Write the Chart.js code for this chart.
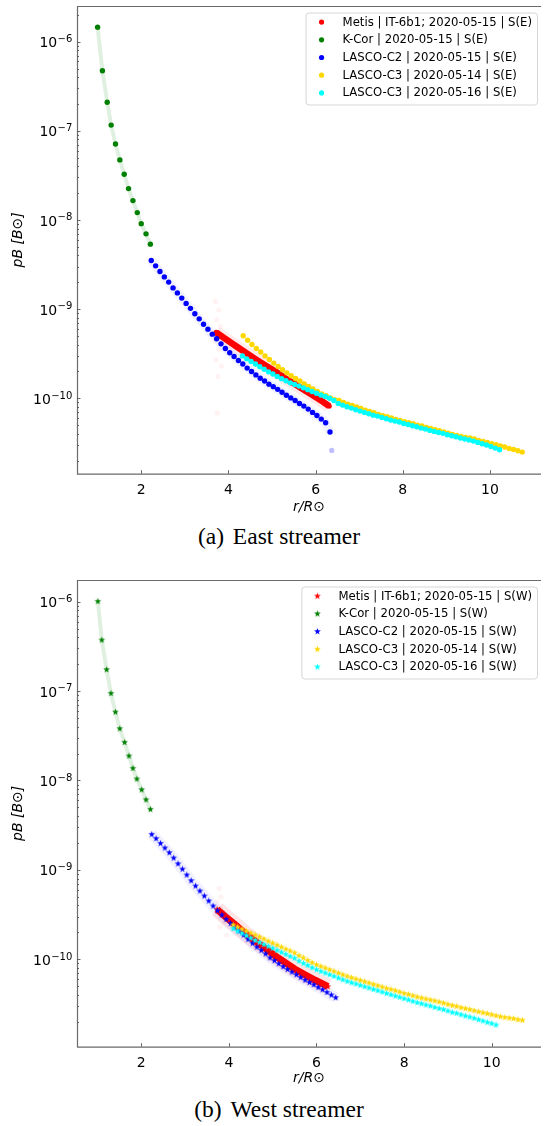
<!DOCTYPE html>
<html>
<head>
<meta charset="utf-8">
<title>pB profiles</title>
<script src="https://cdn.jsdelivr.net/npm/chart.js@4/dist/chart.umd.min.js"></script>
<style>
  body { margin: 0; background: #fff; width: 545px; height: 1126px; position: relative; overflow: hidden; }
  canvas { position: absolute; left: 0; }
  #east { top: 0; }
  #west { top: 570px; }
  .cap { position: absolute; left: 0; width: 558px; text-align: center; font-family: "Liberation Serif", serif;
         font-size: 23.5px; line-height: 28px; color: #000; white-space: nowrap; }
  .cap span { margin-left: 3px; }
</style>
</head>
<body>
<canvas id="east" width="545" height="520"></canvas>
<div class="cap" style="top:522px">(a) <span>East streamer</span></div>
<canvas id="west" width="545" height="520"></canvas>
<div class="cap" style="top:1095px">(b) <span>West streamer</span></div>

<script>
/* ============================
   pB radial profiles, East / West streamer
============================ */

// ---------- axes ----------
const xTicks = [2, 4, 6, 8, 10];
const yMajorTicks = [1e-10, 1e-9, 1e-8, 1e-7, 1e-6];
const yTickBase = '10';
const yTickExponents = ['−10', '−9', '−8', '−7', '−6'];
const minorDecades = [1e-11, 1e-10, 1e-9, 1e-8, 1e-7, 1e-6];
const minorSteps = [2, 3, 4, 5, 6, 7, 8, 9];

const eastLabels = [
  'Metis | IT-6b1; 2020-05-15 | S(E)',
  'K-Cor | 2020-05-15 | S(E)',
  'LASCO-C2 | 2020-05-15 | S(E)',
  'LASCO-C3 | 2020-05-14 | S(E)',
  'LASCO-C3 | 2020-05-16 | S(E)'
];
const westLabels = [
  'Metis | IT-6b1; 2020-05-15 | S(W)',
  'K-Cor | 2020-05-15 | S(W)',
  'LASCO-C2 | 2020-05-15 | S(W)',
  'LASCO-C3 | 2020-05-14 | S(W)',
  'LASCO-C3 | 2020-05-16 | S(W)'
];

// ---------- East streamer ----------
const metisER  = [3.72, 3.94, 4.16, 4.39, 4.62, 4.85, 5.08, 5.30, 5.53, 5.76, 5.99, 6.18, 6.31];
const metisEPB = [5.47e-10, 4.61e-10, 3.88e-10, 3.26e-10, 2.75e-10, 2.33e-10, 2.00e-10, 1.68e-10, 1.44e-10, 1.22e-10, 1.04e-10, 9.06e-11, 8.17e-11];

const kcorER  = [1.00, 1.11, 1.22, 1.31, 1.41, 1.51, 1.61, 1.71, 1.81, 1.91, 2.00, 2.11, 2.21];
const kcorEPB = [1.45e-6, 4.73e-7, 2.09e-7, 1.16e-7, 7.13e-8, 4.72e-8, 3.26e-8, 2.25e-8, 1.65e-8, 1.21e-8, 9.1e-9, 6.99e-9, 5.36e-9];

const c2ER = [2.23, 2.33, 2.43, 2.53, 2.63, 2.73, 2.83, 2.93, 3.03, 3.13, 3.23, 3.33, 3.43, 3.53,
  3.63, 3.73, 3.83, 3.93, 4.03, 4.13, 4.23, 4.33, 4.43, 4.53, 4.63, 4.73, 4.83, 4.93, 5.03, 5.13,
  5.23, 5.33, 5.43, 5.53, 5.63, 5.73, 5.83, 5.93, 6.03, 6.13, 6.23, 6.33];
const c2EPB = [3.51e-9, 3.06e-9, 2.64e-9, 2.30e-9, 2.01e-9, 1.73e-9, 1.52e-9, 1.33e-9, 1.16e-9, 1.02e-9,
  8.86e-10, 7.78e-10, 6.78e-10, 5.96e-10, 5.24e-10, 4.65e-10, 4.08e-10, 3.62e-10, 3.24e-10, 2.94e-10,
  2.65e-10, 2.42e-10, 2.18e-10, 2.00e-10, 1.83e-10, 1.68e-10, 1.56e-10, 1.44e-10, 1.35e-10, 1.26e-10,
  1.17e-10, 1.08e-10, 1.01e-10, 9.46e-11, 8.75e-11, 8.17e-11, 7.56e-11, 6.94e-11, 6.42e-11, 5.84e-11,
  5.31e-11, 4.18e-11];

const c3aER = [4.34, 4.44, 4.54, 4.64, 4.74, 4.84, 4.94, 5.04, 5.14, 5.24, 5.34, 5.44, 5.54, 5.64,
  5.74, 5.84, 5.94, 6.04, 6.14, 6.24, 6.34, 6.44, 6.54, 6.64, 6.74, 6.84, 6.94, 7.04, 7.14, 7.24,
  7.34, 7.44, 7.54, 7.64, 7.74, 7.84, 7.94, 8.04, 8.14, 8.24, 8.34, 8.44, 8.54, 8.64, 8.74, 8.84,
  8.94, 9.04, 9.14, 9.24, 9.34, 9.44, 9.54, 9.64, 9.74, 9.84, 9.94, 10.04, 10.14, 10.24, 10.34,
  10.44, 10.54, 10.64, 10.74];
const c3aEPB = [5.02e-10, 4.49e-10, 4.01e-10, 3.62e-10, 3.30e-10, 2.99e-10, 2.72e-10, 2.48e-10, 2.27e-10,
  2.09e-10, 1.93e-10, 1.79e-10, 1.67e-10, 1.56e-10, 1.45e-10, 1.36e-10, 1.27e-10, 1.19e-10, 1.12e-10,
  1.07e-10, 1.01e-10, 9.62e-11, 9.45e-11, 8.98e-11, 8.60e-11, 8.31e-11, 7.97e-11, 7.69e-11, 7.37e-11,
  7.12e-11, 6.88e-11, 6.59e-11, 6.37e-11, 6.21e-11, 6.00e-11, 5.80e-11, 5.65e-11, 5.46e-11, 5.31e-11,
  5.18e-11, 5.00e-11, 4.88e-11, 4.71e-11, 4.59e-11, 4.44e-11, 4.32e-11, 4.18e-11, 4.07e-11, 3.94e-11,
  3.83e-11, 3.73e-11, 3.64e-11, 3.58e-11, 3.49e-11, 3.37e-11, 3.28e-11, 3.20e-11, 3.09e-11, 3.01e-11,
  2.91e-11, 2.84e-11, 2.74e-11, 2.67e-11, 2.58e-11, 2.49e-11];

const c3bER = [4.32, 4.42, 4.52, 4.62, 4.72, 4.82, 4.92, 5.02, 5.12, 5.22, 5.32, 5.42, 5.52, 5.62,
  5.72, 5.82, 5.92, 6.02, 6.12, 6.22, 6.32, 6.42, 6.52, 6.62, 6.72, 6.82, 6.92, 7.02, 7.12, 7.22,
  7.32, 7.42, 7.52, 7.62, 7.72, 7.82, 7.92, 8.02, 8.12, 8.22, 8.32, 8.42, 8.52, 8.62, 8.72, 8.82,
  8.92, 9.02, 9.12, 9.22, 9.32, 9.42, 9.52, 9.62, 9.72, 9.82, 9.92, 10.02, 10.12, 10.22];
const c3bEPB = [2.99e-10, 2.77e-10, 2.59e-10, 2.42e-10, 2.26e-10, 2.12e-10, 1.98e-10, 1.87e-10, 1.76e-10,
  1.66e-10, 1.57e-10, 1.49e-10, 1.43e-10, 1.37e-10, 1.31e-10, 1.25e-10, 1.19e-10, 1.14e-10, 1.09e-10,
  1.05e-10, 1.00e-10, 9.45e-11, 8.75e-11, 8.39e-11, 8.04e-11, 7.76e-11, 7.43e-11, 7.18e-11, 6.94e-11,
  6.70e-11, 6.47e-11, 6.31e-11, 6.10e-11, 5.89e-11, 5.69e-11, 5.55e-11, 5.41e-11, 5.22e-11, 5.09e-11,
  4.92e-11, 4.80e-11, 4.63e-11, 4.51e-11, 4.36e-11, 4.25e-11, 4.14e-11, 4.04e-11, 3.90e-11, 3.80e-11,
  3.70e-11, 3.58e-11, 3.49e-11, 3.40e-11, 3.31e-11, 3.20e-11, 3.09e-11, 2.99e-11, 2.88e-11, 2.76e-11,
  2.65e-11];

// faint scatter behind the Metis east profile + one stray C2 point
const metisECloudR  = [3.70, 3.78, 3.73, 3.82, 3.69, 3.78, 3.72, 3.84, 3.76, 3.74];
const metisECloudPB = [1.22e-9, 9.8e-10, 7.6e-10, 6.4e-10, 4.5e-10, 3.5e-10, 2.7e-10, 2.3e-10, 1.76e-10, 6.8e-11];
const c2EStrayR  = [6.37];
const c2EStrayPB = [2.6e-11];

// ---------- West streamer ----------
const metisWR  = [3.73, 3.92, 4.15, 4.37, 4.60, 4.83, 5.05, 5.28, 5.50, 5.73, 5.96, 6.15, 6.26];
const metisWPB = [3.62e-10, 3.00e-10, 2.42e-10, 1.95e-10, 1.60e-10, 1.33e-10, 1.10e-10, 9.25e-11, 7.79e-11, 6.73e-11, 5.86e-11, 5.29e-11, 4.94e-11];

const kcorWR  = [1.01, 1.10, 1.21, 1.31, 1.41, 1.51, 1.62, 1.72, 1.81, 1.90, 2.01, 2.11, 2.21];
const kcorWPB = [1.01e-6, 3.73e-7, 1.74e-7, 9.44e-8, 5.83e-8, 3.80e-8, 2.67e-8, 1.88e-8, 1.37e-8, 1.04e-8, 7.89e-9, 6.10e-9, 4.76e-9];

const c2WR = [2.24, 2.34, 2.44, 2.54, 2.64, 2.74, 2.84, 2.94, 3.04, 3.14, 3.24, 3.34, 3.44, 3.54,
  3.64, 3.74, 3.84, 3.94, 4.04, 4.14, 4.24, 4.34, 4.44, 4.54, 4.64, 4.74, 4.84, 4.94, 5.04, 5.14,
  5.24, 5.34, 5.44, 5.54, 5.64, 5.74, 5.84, 5.94, 6.04, 6.14, 6.24, 6.34, 6.44];
const c2WPB = [2.50e-9, 2.24e-9, 1.98e-9, 1.76e-9, 1.56e-9, 1.36e-9, 1.17e-9, 1.02e-9, 8.77e-10, 7.58e-10,
  6.61e-10, 5.81e-10, 5.11e-10, 4.49e-10, 3.95e-10, 3.50e-10, 3.13e-10, 2.80e-10, 2.52e-10, 2.28e-10,
  2.07e-10, 1.87e-10, 1.67e-10, 1.51e-10, 1.37e-10, 1.26e-10, 1.15e-10, 1.04e-10, 9.66e-11, 8.93e-11,
  8.27e-11, 7.72e-11, 7.21e-11, 6.73e-11, 6.28e-11, 5.86e-11, 5.52e-11, 5.20e-11, 4.86e-11, 4.57e-11,
  4.27e-11, 3.99e-11, 3.72e-11];

const c3aWR = [4.10, 4.20, 4.30, 4.40, 4.50, 4.60, 4.70, 4.80, 4.90, 5.00, 5.10, 5.20, 5.30, 5.40,
  5.50, 5.60, 5.70, 5.80, 5.90, 6.00, 6.10, 6.20, 6.30, 6.40, 6.50, 6.60, 6.70, 6.80, 6.90, 7.00,
  7.10, 7.20, 7.30, 7.40, 7.50, 7.60, 7.70, 7.80, 7.90, 8.00, 8.10, 8.20, 8.30, 8.40, 8.50, 8.60,
  8.70, 8.80, 8.90, 9.00, 9.10, 9.20, 9.30, 9.40, 9.50, 9.60, 9.70, 9.80, 9.90, 10.00, 10.10, 10.20,
  10.30, 10.40, 10.50, 10.60, 10.70];
const c3aWPB = [2.42e-10, 2.30e-10, 2.18e-10, 2.07e-10, 1.97e-10, 1.87e-10, 1.78e-10, 1.69e-10, 1.60e-10,
  1.52e-10, 1.44e-10, 1.37e-10, 1.30e-10, 1.24e-10, 1.18e-10, 1.10e-10, 1.04e-10, 9.73e-11, 9.17e-11,
  8.70e-11, 8.34e-11, 7.99e-11, 7.66e-11, 7.33e-11, 7.03e-11, 6.73e-11, 6.45e-11, 6.23e-11, 6.02e-11,
  5.82e-11, 5.62e-11, 5.43e-11, 5.25e-11, 5.07e-11, 4.90e-11, 4.73e-11, 4.61e-11, 4.46e-11, 4.31e-11,
  4.16e-11, 4.06e-11, 3.92e-11, 3.79e-11, 3.69e-11, 3.60e-11, 3.51e-11, 3.42e-11, 3.33e-11, 3.24e-11,
  3.13e-11, 3.05e-11, 2.98e-11, 2.88e-11, 2.81e-11, 2.74e-11, 2.66e-11, 2.59e-11, 2.53e-11, 2.47e-11,
  2.40e-11, 2.34e-11, 2.28e-11, 2.24e-11, 2.20e-11, 2.17e-11, 2.11e-11, 2.08e-11];

const c3bWR = [4.10, 4.20, 4.30, 4.40, 4.50, 4.60, 4.70, 4.80, 4.90, 5.00, 5.10, 5.20, 5.30, 5.40,
  5.50, 5.60, 5.70, 5.80, 5.90, 6.00, 6.10, 6.20, 6.30, 6.40, 6.50, 6.60, 6.70, 6.80, 6.90, 7.00,
  7.10, 7.20, 7.30, 7.40, 7.50, 7.60, 7.70, 7.80, 7.90, 8.00, 8.10, 8.20, 8.30, 8.40, 8.50, 8.60,
  8.70, 8.80, 8.90, 9.00, 9.10, 9.20, 9.30, 9.40, 9.50, 9.60, 9.70, 9.80, 9.90, 10.00, 10.10];
const c3bWPB = [2.20e-10, 2.07e-10, 1.95e-10, 1.84e-10, 1.73e-10, 1.63e-10, 1.55e-10, 1.47e-10, 1.40e-10,
  1.33e-10, 1.26e-10, 1.20e-10, 1.14e-10, 1.08e-10, 1.03e-10, 9.57e-11, 9.02e-11, 8.56e-11, 8.06e-11,
  7.65e-11, 7.33e-11, 7.03e-11, 6.73e-11, 6.45e-11, 6.18e-11, 5.92e-11, 5.67e-11, 5.48e-11, 5.30e-11,
  5.12e-11, 4.94e-11, 4.78e-11, 4.61e-11, 4.46e-11, 4.31e-11, 4.16e-11, 4.02e-11, 3.88e-11, 3.76e-11,
  3.63e-11, 3.51e-11, 3.39e-11, 3.27e-11, 3.19e-11, 3.08e-11, 3.01e-11, 2.90e-11, 2.81e-11, 2.74e-11,
  2.64e-11, 2.55e-11, 2.49e-11, 2.40e-11, 2.32e-11, 2.26e-11, 2.19e-11, 2.11e-11, 2.04e-11, 1.97e-11,
  1.91e-11, 1.84e-11];

const metisWCloudR  = [3.78, 3.82, 3.76, 3.86, 3.80, 3.95, 3.74, 3.90];
const metisWCloudPB = [6.2e-10, 5.0e-10, 3.9e-10, 3.0e-10, 2.3e-10, 1.87e-10, 4.4e-10, 2.6e-10];


/* ---------- helpers ---------- */
const COLORS = ['#ff0000', '#008000', '#0000ff', '#ffd700', '#00ffff'];
const FONT = '"DejaVu Sans", sans-serif';

function pts(r, pb) {
  return r.map((x, i) => ({ x: x, y: pb[i] }));
}

function starImage(color) {
  const c = document.createElement('canvas');
  c.width = 9; c.height = 9;
  const g = c.getContext('2d');
  g.fillStyle = color;
  g.beginPath();
  for (let i = 0; i < 10; i++) {
    const rad = i % 2 ? 1.4 : 3.6;
    const a = -Math.PI / 2 + i * Math.PI / 5;
    g.lineTo(4.5 + rad * Math.cos(a), 4.5 + rad * Math.sin(a));
  }
  g.closePath();
  g.fill();
  return c;
}

function minorTicks(min, max) {
  const out = [];
  minorDecades.forEach(d => minorSteps.forEach(m => {
    const v = m * d;
    if (v > min && v < max) out.push(v);
  }));
  return out;
}

/* frame, inward ticks and 10^n labels, matplotlib look */
const framePlugin = {
  id: 'frame',
  afterDatasetsDraw(chart) {
    const { ctx, chartArea: a, scales } = chart;
    ctx.save();
    ctx.strokeStyle = '#6a6a6a';
    ctx.lineWidth = 1.2;
    ctx.beginPath();
    ctx.moveTo(a.right, a.top + 0.5);
    ctx.lineTo(a.left + 0.5, a.top + 0.5);
    ctx.lineTo(a.left + 0.5, a.bottom + 0.5);
    ctx.lineTo(a.right, a.bottom + 0.5);
    ctx.stroke();

    ctx.strokeStyle = '#555';
    ctx.lineWidth = 0.9;
    ctx.beginPath();
    scales.y.ticks.forEach(t => {
      const py = Math.round(scales.y.getPixelForValue(t.value)) + 0.5;
      const len = yMajorTicks.includes(t.value) ? 3.5 : 2;
      ctx.moveTo(a.left, py);
      ctx.lineTo(a.left + len, py);
    });
    scales.x.ticks.forEach(t => {
      const px = Math.round(scales.x.getPixelForValue(t.value)) + 0.5;
      ctx.moveTo(px, a.bottom);
      ctx.lineTo(px, a.bottom - 3.5);
    });
    ctx.stroke();

    // y tick labels: "10" with a raised exponent
    ctx.fillStyle = '#000';
    ctx.textAlign = 'right';
    ctx.textBaseline = 'alphabetic';
    const right = a.left - 4.7;
    yMajorTicks.forEach((v, i) => {
      const py = scales.y.getPixelForValue(v);
      ctx.font = '10px ' + FONT;
      const ew = ctx.measureText(yTickExponents[i]).width;
      ctx.fillText(yTickExponents[i], right, py + 0.3);
      ctx.font = '14px ' + FONT;
      ctx.fillText(yTickBase, right - ew - 0.3, py + 5.6);
    });
    ctx.restore();
  }
};

/* matplotlib style legend box in upper right */
const boxLegend = {
  id: 'boxLegend',
  afterDraw(chart) {
    const { ctx, chartArea: a } = chart;
    const items = chart.data.datasets.filter(d => d.inLegend);
    ctx.save();
    ctx.font = '11.7px ' + FONT;
    const textW = Math.max(...items.map(d => ctx.measureText(d.label).width));
    const w = 37 + textW + 5;
    const h = 92;
    const x = a.right - 4 - w;
    const y = a.top + 6.5;

    ctx.beginPath();
    ctx.roundRect(x + 0.5, y + 0.5, w, h, 3);
    ctx.fillStyle = 'rgba(255,255,255,0.85)';
    ctx.fill();
    ctx.strokeStyle = '#d6d6d6';
    ctx.lineWidth = 1;
    ctx.stroke();

    items.forEach((d, i) => {
      const cy = y + 9.6 + i * 17.7;
      if (d.pointStyle instanceof HTMLCanvasElement) {
        ctx.drawImage(d.pointStyle, x + 16 - 4.5, cy - 4.5);
      } else {
        ctx.beginPath();
        ctx.arc(x + 16, cy, 2.6, 0, Math.PI * 2);
        ctx.fillStyle = d.backgroundColor;
        ctx.fill();
      }
      ctx.fillStyle = '#000';
      ctx.textBaseline = 'middle';
      ctx.textAlign = 'left';
      ctx.fillText(d.label, x + 37, cy + 0.5);
    });
    ctx.restore();
  }
};

function faintLine(data, color, width) {
  return { data, showLine: true, borderColor: color, borderWidth: width, pointRadius: 0, order: 20 };
}
function faintDots(data, color) {
  return { data, backgroundColor: color, pointRadius: 2.6, pointBorderWidth: 0, order: 20 };
}

function mainSet(label, data, i, star, redLine) {
  const ds = {
    label: label,
    data: data,
    inLegend: true,
    backgroundColor: COLORS[i],
    borderColor: COLORS[i],
    pointBackgroundColor: COLORS[i],
    pointBorderWidth: 0,
    pointRadius: star ? 3 : 2.7,
    pointStyle: star ? starImage(COLORS[i]) : 'circle',
    order: 10 - i
  };
  if (redLine) {
    ds.showLine = true;
    ds.borderWidth = redLine;
  }
  return ds;
}

function makePanel(canvasId, cfg) {
  return new Chart(document.getElementById(canvasId), {
    type: 'scatter',
    data: { datasets: cfg.datasets },
    options: {
      responsive: false,
      animation: false,
      events: [],
      layout: { padding: { top: cfg.padTop, left: 0, right: 0, bottom: 0 } },
      plugins: { legend: { display: false }, tooltip: { enabled: false } },
      scales: {
        x: {
          type: 'linear',
          min: cfg.xMin, max: cfg.xMax,
          grid: { display: false },
          border: { display: false },
          afterBuildTicks: s => { s.ticks = xTicks.map(v => ({ value: v })); },
          afterFit: s => {
            s.height = cfg.xAxisH;
            s.paddingLeft = 0; s.paddingRight = 0; s.paddingTop = 0; s.paddingBottom = 0;
          },
          ticks: { color: '#000', font: { family: FONT, size: 14 }, padding: 0, autoSkip: false, maxRotation: 0 },
          title: {
            display: true, text: 'r/R⊙', color: '#000',
            font: { family: FONT, size: 14, style: 'italic' },
            padding: { top: 0, bottom: cfg.titlePadBottom }
          }
        },
        y: {
          type: 'logarithmic',
          min: cfg.yMin, max: cfg.yMax,
          grid: { display: false },
          border: { display: false },
          afterBuildTicks: s => {
            s.ticks = yMajorTicks.concat(minorTicks(cfg.yMin, cfg.yMax)).map(v => ({ value: v }));
          },
          afterFit: s => {
            s.width = 77;
            s.paddingLeft = 0; s.paddingRight = 0; s.paddingTop = 0; s.paddingBottom = 0;
          },
          ticks: { display: false },
          title: {
            display: true, text: 'pB [B⊙]', color: '#000',
            font: { family: FONT, size: 14, style: 'italic' },
            padding: { top: 9.5, bottom: 0 }
          }
        }
      }
    },
    plugins: [framePlugin, boxLegend]
  });
}

/* ---------- East ---------- */
makePanel('east', {
  padTop: 6, xAxisH: 46.3, titlePadBottom: 4.6,
  xMin: 0.527, xMax: 11.17,
  yMin: Math.pow(10, -10.846), yMax: Math.pow(10, -5.5996),
  datasets: [
    faintLine(pts(kcorER, kcorEPB), 'rgba(0,128,0,0.12)', 4),
    faintLine(pts(c2ER, c2EPB), 'rgba(0,0,255,0.05)', 9),
    faintLine(pts(metisER, metisEPB), 'rgba(255,0,0,0.08)', 13),
    faintDots(pts(metisECloudR, metisECloudPB), 'rgba(255,0,0,0.05)'),
    faintDots(pts(c2EStrayR, c2EStrayPB), 'rgba(0,0,255,0.25)'),
    mainSet(eastLabels[0], pts(metisER, metisEPB), 0, false, 6.5),
    mainSet(eastLabels[1], pts(kcorER, kcorEPB), 1, false),
    mainSet(eastLabels[2], pts(c2ER, c2EPB), 2, false),
    mainSet(eastLabels[3], pts(c3aER, c3aEPB), 3, false),
    mainSet(eastLabels[4], pts(c3bER, c3bEPB), 4, false)
  ]
});

/* ---------- West ---------- */
makePanel('west', {
  padTop: 10, xAxisH: 43.3, titlePadBottom: 2.8,
  xMin: 0.534, xMax: 11.125,
  yMin: Math.pow(10, -10.978), yMax: Math.pow(10, -5.757),
  datasets: [
    faintLine(pts(kcorWR, kcorWPB), 'rgba(0,128,0,0.12)', 4),
    faintLine(pts(c2WR, c2WPB), 'rgba(0,0,255,0.05)', 11),
    faintLine(pts(metisWR, metisWPB), 'rgba(255,0,0,0.10)', 16),
    faintDots(pts(metisWCloudR, metisWCloudPB), 'rgba(255,0,0,0.05)'),
    mainSet(westLabels[0], pts(metisWR, metisWPB), 0, true, 7),
    mainSet(westLabels[1], pts(kcorWR, kcorWPB), 1, true),
    mainSet(westLabels[2], pts(c2WR, c2WPB), 2, true),
    mainSet(westLabels[3], pts(c3aWR, c3aWPB), 3, true),
    mainSet(westLabels[4], pts(c3bWR, c3bWPB), 4, true)
  ]
});
</script>
</body>
</html>
